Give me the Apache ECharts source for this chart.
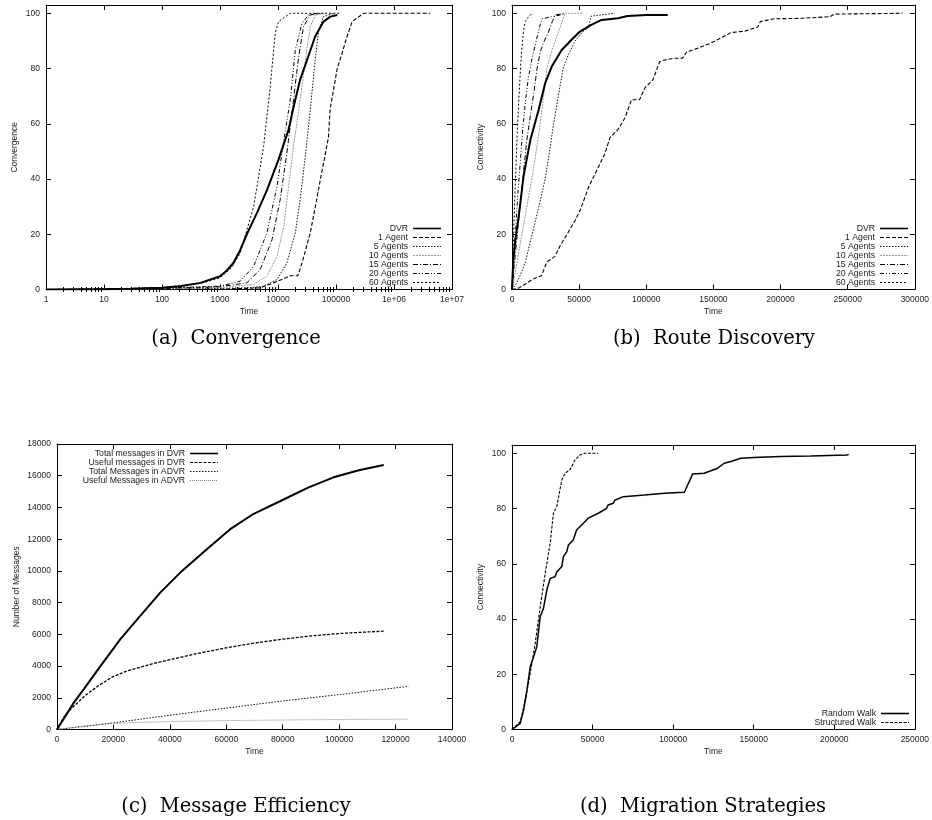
<!DOCTYPE html>
<html><head><meta charset="utf-8">
<script src="https://cdn.jsdelivr.net/npm/echarts@6/dist/echarts.min.js"></script>
<style>html,body{margin:0;padding:0;background:#fff}#c{width:932px;height:820px}</style>
</head><body><div id="c"></div><script>
// ---------- (a) Convergence (log time) ----------
const agentNames = ['DVR','1 Agent','5 Agents','10 Agents','15 Agents','20 Agents','60 Agents'];
const convDVR = [[1,0],[10,0.1],[30,0.3],[100,0.6],[205,1.2],[460,2.4],[1000,4.8],[1300,6.8],[1700,9.6],[2200,14],[2900,20],[4400,28],[6450,36],[10200,47],[15200,57.8],[18500,66],[24100,76],[31600,83],[43700,91.6],[61000,97],[80000,98.8],[105000,99.4]];
const conv1A = [[1,0],[100,0],[1000,0.1],[4900,0.6],[8300,2.4],[11600,3.6],[16300,5],[22000,5],[26000,9.6],[36000,20.5],[44000,30],[54000,40],[64000,48],[74000,55],[79000,65],[90000,72],[105000,80],[125000,85],[155000,91.6],[190000,97],[300000,100],[4200000,100]];
const conv5A = [[1,0],[100,0.2],[1000,0.4],[3000,0.6],[5650,1.2],[9600,3.6],[14200,9.6],[19900,20.5],[24100,32.5],[29600,48.2],[36000,65],[43700,83],[50300,94],[61000,98.8],[91000,100]];
const conv10A = [[1,0],[100,0.3],[1000,0.7],[3800,1.8],[6450,4.8],[9600,12],[12600,22.9],[15200,37.3],[18500,51.8],[24100,68.7],[29600,83],[36000,95.2],[43700,99.4],[69500,100]];
const conv15A = [[1,0],[100,0.4],[1000,1],[2900,2.4],[4930,7.2],[7880,18],[10900,32.5],[14200,49.4],[18500,68.7],[22700,84.3],[27600,95.2],[36000,99.4],[53500,100]];
const conv20A = [[1,0],[100,0.5],[1000,1.2],[2240,3],[3800,8.4],[6450,20.5],[9600,37.3],[12600,54],[16300,68.7],[19900,86.7],[25900,96.4],[33600,99.4],[47000,100]];
const conv60A = [[1,0],[10,0.2],[100,0.7],[460,2.2],[1000,4.2],[1600,8],[2240,13.3],[3800,30],[5650,51.8],[7350,73.5],[8950,92.8],[10200,97],[16300,100],[120000,100]];

// ---------- (b) Route Discovery ----------
const rdDVR = [[0,0],[1000,11],[2500,18],[5000,26.5],[8600,41],[13600,54],[19800,65],[24700,74.7],[29600,80.7],[37000,86.7],[44400,90.4],[50600,93.4],[59000,95.8],[66700,97.6],[79000,98.2],[86000,99],[100000,99.4],[116000,99.4]];
const rd1A = [[0,0],[5000,0.5],[10000,2],[15000,3.6],[22000,5],[26000,10],[32000,12],[36000,16],[41000,20],[47000,25],[51000,29],[57000,37],[63000,43],[69000,49],[73000,55],[79000,58],[84000,62],[89000,68.7],[95000,68.7],[99000,73],[105000,76],[110000,82.5],[113000,83],[120000,83.7],[127000,83.7],[130000,86],[138000,87.3],[147000,89],[153000,90.4],[163000,93],[173000,93.5],[183000,95],[185000,97],[195000,98],[217000,98.2],[237000,98.8],[240000,99.7],[291000,100]];
const rd5A = [[0,0],[3000,2],[6000,5],[10000,10],[15000,20],[20000,30],[24700,40],[28000,50],[31000,60],[34500,70],[38000,80],[42000,85],[47000,90],[52000,93],[57000,95],[59000,99],[76500,100]];
const rd10A = [[0,0],[2000,5],[4500,12],[7400,20],[11000,30],[14800,40],[18000,50],[21000,60],[23500,70],[26000,80],[30000,87],[33000,91],[36000,95],[39500,100],[53000,100]];
const rd15A = [[0,0],[1500,8],[3500,18],[6000,30],[8500,42],[11000,54],[14000,64],[16500,72],[18500,79.5],[21000,86],[24000,90],[27000,93],[30000,97],[32000,99.4],[40000,100]];
const rd20A = [[0,0],[1000,8],[2500,20],[4000,32],[6000,45],[8000,58],[10000,68],[12000,76],[15000,84],[18000,90],[20000,94],[22200,98],[30000,98.8],[37000,99.5],[39000,100]];
const rd60A = [[0,0],[500,10],[1000,17],[2000,32],[3000,45],[4000,58],[5000,68],[6000,77],[7000,85],[8000,91],[9000,95],[10000,97],[12000,98.5],[15000,100]];

// ---------- (c) Message Efficiency ----------
const msgNames = ['Total messages in DVR','Useful messages in DVR','Total Messages in ADVR','Useful Messages in ADVR'];
const msgTotalDVR = [[0,0],[5900,1680],[9450,2530],[15400,4000],[22400,5680],[29500,7160],[36600,8630],[44300,10000],[53100,11370],[61400,12630],[69700,13600],[80300,14500],[89000,15250],[98000,15900],[107000,16350],[115800,16670]];
const msgUsefulDVR = [[0,0],[2500,800],[5000,1300],[10000,2150],[15000,2800],[20000,3350],[25000,3700],[30000,3950],[35000,4200],[40000,4400],[50000,4800],[60000,5150],[70000,5450],[80000,5700],[90000,5900],[100000,6050],[110000,6150],[115800,6200]];
const msgTotalADVR = [[0,0],[10000,200],[20000,420],[40000,900],[60000,1350],[80000,1800],[100000,2200],[124600,2720]];
const msgUsefulADVR = [[0,0],[5000,120],[10000,230],[20000,380],[30000,450],[40000,500],[60000,560],[80000,600],[100000,630],[124600,650]];

// ---------- (d) Migration Strategies ----------
const walkNames = ['Random Walk','Structured Walk'];
const randomWalk = [[0,0],[5100,2.2],[7200,7],[9300,14.3],[11300,22.7],[13400,26.3],[15400,30],[17500,40.8],[19500,43.8],[21600,50.5],[23700,54.7],[26700,55.3],[27800,57],[30900,59],[31900,62.6],[34000,64.4],[35000,66.8],[38000,68.6],[40100,72.2],[44200,74.6],[47300,76.5],[53500,78.3],[58600,80],[59700,81.3],[62800,81.9],[63800,83],[69000,84.3],[82300,84.9],[94700,85.5],[107000,85.9],[109000,88.5],[111000,91],[112000,92.5],[119300,92.8],[127600,94.6],[131700,96.4],[135800,97],[142000,98.2],[150200,98.5],[166700,98.8],[185200,99],[207800,99.4],[209000,99.6]];
const structuredWalk = [[0,0],[5100,2.8],[8200,10.6],[11300,20.3],[14400,31.2],[17500,44.4],[20600,56.5],[23700,67.4],[25700,78.3],[27800,80.7],[30900,90.3],[32900,92.8],[36000,94],[39100,97.6],[42200,99.4],[45300,100],[53500,100]];

const captions = ['(a)  Convergence','(b)  Route Discovery','(c)  Message Efficiency','(d)  Migration Strategies'];
const logMinorTicks = [];
for (let d = 0; d < 7; d++) for (let k = 2; k <= 9; k++) logMinorTicks.push(k * Math.pow(10, d));

const SANS = 'Liberation Sans, Arial, sans-serif';
const LBL = {color:'#222', fontSize:8.5, fontFamily:SANS};
const AXL = {show:true, onZero:false, lineStyle:{color:'#000', width:1}};
const TCK = {show:true, inside:true, length:5, lineStyle:{color:'#000', width:1}};
const NAME_STYLE = {color:'#222', fontSize:8.5, fontFamily:SANS};

const grids = [
  {left:46, top:5, width:406, height:284.5},
  {left:512, top:5, width:406, height:284.5},
  {left:57, top:444, width:395, height:285.5},
  {left:512, top:445, width:406, height:284.5}
];

function fmtLog(v){ const e = Math.round(Math.log10(v)); if (e >= 6) return '1e+0' + e; return String(Math.round(Math.pow(10, e))); }
const xRanges = [null, {min:0,max:300000,interval:50000}, {min:0,max:140000,interval:20000}, {min:0,max:250000,interval:50000}];
const yRanges = [{min:0,max:103,interval:20}, {min:0,max:103,interval:20}, {min:0,max:18000,interval:2000}, {min:0,max:103,interval:20}];
const yNames = ['Convergence','Connectivity','Number of Messages','Connectivity'];
const yGaps = [27,27,36,27];
const LOGBASE = {type:'log', logBase:10, min:1, max:1e7, splitNumber:7};

const xAxis = [], yAxis = [];
for (let g = 0; g < 4; g++) {
  const base = g === 0 ? LOGBASE : Object.assign({type:'value'}, xRanges[g]);
  xAxis.push(Object.assign({gridIndex:g, position:'bottom', axisLine:AXL, axisTick:TCK, splitLine:{show:false},
    axisLabel:Object.assign({margin:6}, LBL, g === 0 ? {formatter:fmtLog} : {formatter:v => String(v)}),
    name:'Time', nameLocation:'middle', nameGap:18, nameTextStyle:NAME_STYLE}, base));
}
for (let g = 0; g < 4; g++) {
  const base = g === 0 ? LOGBASE : Object.assign({type:'value'}, xRanges[g]);
  xAxis.push(Object.assign({gridIndex:g, position:'top', axisLine:AXL, axisTick:TCK, splitLine:{show:false}, axisLabel:{show:false}}, base));
}
// log minor ticks (bottom & top) for plot (a)
['bottom','top'].forEach(pos => xAxis.push(Object.assign({gridIndex:0, position:pos, axisLine:{show:false}, splitLine:{show:false}, axisLabel:{show:false},
  axisTick:{show:true, inside:true, length:2.5, customValues:logMinorTicks, lineStyle:{color:'#000', width:1}}}, LOGBASE)));

for (let g = 0; g < 4; g++) {
  const step = yRanges[g].interval;
  yAxis.push(Object.assign({gridIndex:g, type:'value', position:'left', axisLine:AXL, axisTick:TCK, splitLine:{show:false},
    axisLabel:Object.assign({margin:6, formatter:v => (Math.abs(v % step) < 1e-9 ? String(v) : '')}, LBL),
    name:yNames[g], nameLocation:'middle', nameGap:yGaps[g], nameTextStyle:NAME_STYLE}, yRanges[g]));
}
for (let g = 0; g < 4; g++) {
  yAxis.push(Object.assign({gridIndex:g, type:'value', position:'right', axisLine:AXL, axisTick:TCK, splitLine:{show:false}, axisLabel:{show:false}}, yRanges[g]));
}

const agentStyles = [
  {type:'solid', width:2, color:'#000'},
  {type:[4,2], width:1.1, color:'#000'},
  {type:[1.5,1.5], width:1, color:'#111'},
  {type:[2,1], width:1, color:'#999'},
  {type:[5,2,1,2], width:1, color:'#000'},
  {type:[4,2,1,2,1,2], width:1, color:'#000'},
  {type:[2,2], width:1, color:'#000'}
];
const msgStyles = [
  {type:'solid', width:2, color:'#000'},
  {type:[3,1.5], width:1.3, color:'#000'},
  {type:[1.5,1.5], width:1, color:'#111'},
  {type:[1,1], width:1, color:'#888'}
];
const walkStyles = [
  {type:'solid', width:1.5, color:'#000'},
  {type:[3,1.5], width:1.1, color:'#000'}
];

function mk(name, data, g, ls){
  return {type:'line', name, data, xAxisIndex:g, yAxisIndex:g, showSymbol:false, symbol:'none', lineStyle:ls, itemStyle:{color:ls.color}, silent:true, animation:false, z: ls.type === 'solid' ? 3 : 2};
}
const convData = [convDVR, conv1A, conv5A, conv10A, conv15A, conv20A, conv60A];
const rdData = [rdDVR, rd1A, rd5A, rd10A, rd15A, rd20A, rd60A];
const msgData = [msgTotalDVR, msgUsefulDVR, msgTotalADVR, msgUsefulADVR];
const walkData = [randomWalk, structuredWalk];

const series = [];
agentNames.forEach((n,i) => series.push(mk(n, convData[i], 0, agentStyles[i])));
agentNames.forEach((n,i) => series.push(mk(n, rdData[i], 1, agentStyles[i])));
msgNames.forEach((n,i) => series.push(mk(n, msgData[i], 2, msgStyles[i])));
walkNames.forEach((n,i) => series.push(mk(n, walkData[i], 3, walkStyles[i])));

function legend(names, styles, left, top, tw){
  return {data:names.map((n,i) => ({name:n, lineStyle:{width:styles[i].width >= 1.5 ? 1.6 : 1, type:styles[i].type, color:styles[i].color}})),
    orient:'vertical', left, top, align:'right', itemWidth:28, itemHeight:8, itemGap:0, itemTextGap:3,
    selectedMode:false, itemStyle:{opacity:0, borderWidth:0},
    textStyle:{fontSize:8.7, fontFamily:SANS, color:'#222', width:tw, align:'right', lineHeight:8.8}};
}

const capPos = [[236,339],[714,339],[236,807],[703,807]];
const graphic = captions.map((t,i) => ({type:'text', x:capPos[i][0], y:capPos[i][1], silent:true,
  style:{text:t, font:'19.5px "DejaVu Serif", serif', fill:'#000', align:'center', verticalAlign:'middle'}}));

const chart = echarts.init(document.getElementById('c'));
chart.setOption({
  animation:false,
  backgroundColor:'#fff',
  grid:grids,
  xAxis, yAxis, series,
  legend:[
    legend(agentNames, agentStyles, 343, 219, 60),
    legend(agentNames, agentStyles, 810, 219, 60),
    legend(msgNames, msgStyles, 70, 444, 110),
    legend(walkNames, walkStyles, 801, 704, 70)
  ],
  graphic
});
</script></body></html>
